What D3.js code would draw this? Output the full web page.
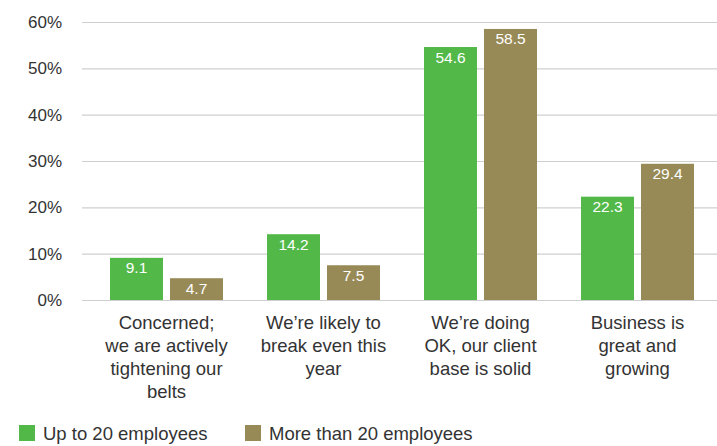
<!DOCTYPE html>
<html>
<head>
<meta charset="utf-8">
<script src="https://cdn.jsdelivr.net/npm/d3@7"></script>
<style>
  html, body { margin: 0; padding: 0; background: #fff; }
  svg { display: block; font-family: "Liberation Sans", Arial, Helvetica, sans-serif; }
</style>
</head>
<body>
<svg id="chart" width="717" height="446"></svg>
<script>
// Survey responses by company size (percent of respondents)
const categories = [
  ["Concerned;", "we are actively", "tightening our", "belts"],
  ["We\u2019re likely to", "break even this", "year"],
  ["We\u2019re doing", "OK, our client", "base is solid"],
  ["Business is", "great and", "growing"]
];
const seriesNames = ["Up to 20 employees", "More than 20 employees"];
const seriesColors = ["#52b848", "#978a57"];
const upTo20 = [9.1, 14.2, 54.6, 22.3];
const moreThan20 = [4.7, 7.5, 58.5, 29.4];
const yTicks = [0, 10, 20, 30, 40, 50, 60];

const series = [upTo20, moreThan20];
const svg = d3.select("#chart");

const y = d3.scaleLinear().domain([0, 60]).range([300, 22]);
const x0 = d3.scaleBand().domain(d3.range(categories.length)).range([88, 716]).paddingInner(0).paddingOuter(0);
const x1 = d3.scaleBand().domain([0, 1]).range([22, x0.bandwidth() - 22]).paddingInner(0.117);

// Gridlines and percent tick labels
const yAxis = d3.axisLeft(y).tickValues(yTicks).tickFormat(d => d + "%").tickSize(-(717 - 82)).tickPadding(20);
const gAxis = svg.append("g").attr("transform", "translate(82,0)").call(yAxis);
gAxis.select(".domain").remove();
gAxis.selectAll(".tick line").attr("stroke", "#cfcfcf").attr("stroke-width", 1.2);
gAxis.selectAll(".tick text").attr("fill", "#333").attr("font-size", 17).attr("x", -20);

// Bars
const groups = svg.append("g").selectAll("g")
  .data(categories.map((c, i) => i))
  .join("g")
  .attr("transform", i => `translate(${x0(i)},0)`);

groups.selectAll("rect")
  .data(i => series.map((s, k) => ({ k, v: s[i] })))
  .join("rect")
  .attr("x", d => x1(d.k))
  .attr("y", d => y(d.v))
  .attr("width", x1.bandwidth())
  .attr("height", d => y(0) - y(d.v))
  .attr("fill", d => seriesColors[d.k]);

// Value labels inside bar tops
groups.selectAll("text.val")
  .data(i => series.map((s, k) => ({ k, v: s[i] })))
  .join("text")
  .attr("class", "val")
  .attr("x", d => x1(d.k) + x1.bandwidth() / 2)
  .attr("y", d => y(d.v) + 15.5)
  .attr("text-anchor", "middle")
  .attr("fill", "#fff")
  .attr("font-size", 15.5)
  .text(d => d.v.toFixed(1));

// Category labels (multi-line)
groups.append("text")
  .attr("text-anchor", "middle")
  .attr("fill", "#333")
  .attr("font-size", 18.5)
  .attr("x", x0.bandwidth() / 2)
  .selectAll("tspan")
  .data(i => categories[i])
  .join("tspan")
  .attr("x", x0.bandwidth() / 2)
  .attr("y", (d, j) => 328.5 + j * 23)
  .text(d => d);

// Legend
const legendX = [19, 245];
const legend = svg.append("g").selectAll("g")
  .data(seriesNames)
  .join("g")
  .attr("transform", (d, i) => `translate(${legendX[i]},425)`);
legend.append("rect").attr("width", 16).attr("height", 16).attr("fill", (d, i) => seriesColors[i]);
legend.append("text")
  .attr("x", 24)
  .attr("y", 14.5)
  .attr("fill", "#333")
  .attr("font-size", 18.5)
  .text(d => d);
</script>
</body>
</html>
